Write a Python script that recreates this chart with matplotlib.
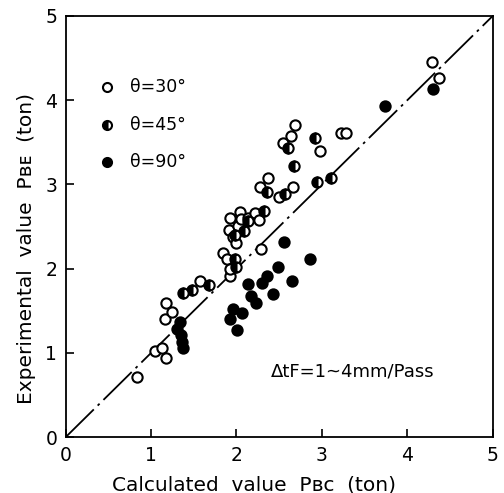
import matplotlib
matplotlib.use("Agg")
import matplotlib.pyplot as plt

# theta = 30 deg (open)
x30 = [0.84, 1.05, 1.13, 1.17, 1.16, 1.18, 1.24, 1.57, 1.84, 1.89, 1.92, 1.93, 1.92, 1.91,
       1.96, 1.99, 2.02, 2.04, 2.05, 2.13, 2.22, 2.26, 2.27, 2.37, 2.29, 2.50, 2.54, 2.64,
       2.68, 2.66, 2.98, 4.29, 4.375, 3.22, 3.28]
y30 = [0.72, 1.02, 1.06, 0.94, 1.40, 1.59, 1.49, 1.85, 2.19, 2.12, 1.91, 2.00, 2.60, 2.46,
       2.37, 2.31, 2.51, 2.67, 2.59, 2.60, 2.66, 2.58, 2.97, 3.07, 2.23, 2.85, 3.49, 3.57,
       3.70, 2.97, 3.40, 4.45, 4.26, 3.61, 3.61]
# theta = 45 deg (half filled)
x45 = [1.37, 1.48, 1.68, 1.98, 1.99, 1.98, 2.09, 2.14, 2.32, 2.36, 2.57, 2.60, 2.67, 2.92,
       2.94, 3.10]
y45 = [1.71, 1.75, 1.81, 2.12, 2.02, 2.40, 2.45, 2.56, 2.69, 2.91, 2.88, 3.43, 3.22, 3.55,
       3.03, 3.07]
# theta = 90 deg (filled)
x90 = [1.34, 1.30, 1.35, 1.36, 1.38, 1.92, 1.96, 2.01, 2.06, 2.13, 2.17, 2.23, 2.30, 2.36,
       2.43, 2.48, 2.56, 2.65, 2.86, 3.74, 4.30]
y90 = [1.37, 1.29, 1.21, 1.13, 1.06, 1.40, 1.52, 1.27, 1.48, 1.82, 1.68, 1.59, 1.83, 1.91,
       1.70, 2.02, 2.32, 1.85, 2.11, 3.93, 4.13]

legend_labels = ["θ=30°", "θ=45°", "θ=90°"]
ticks = [0, 1, 2, 3, 4, 5]

fig = plt.figure(figsize=(5.04, 4.93), dpi=100)
ax = fig.add_axes([0.130, 0.113, 0.848, 0.855])

ax.plot([0, 5], [0, 5], color="black", lw=1.3, dashes=[22, 3, 1.5, 3], zorder=1)

ms = 7.4
mew = 1.5
ax.plot(x30, y30, "o", ms=ms, mfc="white", mec="black", mew=mew, zorder=3)
ax.plot(x45, y45, "o", ms=ms, fillstyle="left", mfc="black", mfcalt="white",
        mec="black", mew=mew, zorder=3)
ax.plot(x90, y90, "o", ms=ms, mfc="black", mec="black", mew=mew, zorder=3)

# legend drawn as text + markers
lx, ltx = 0.48, 0.75
ly = [4.16, 3.70, 3.27]
ax.plot([lx], [ly[0]], "o", ms=6.5, mfc="white", mec="black", mew=mew, clip_on=False)
ax.plot([lx], [ly[1]], "o", ms=6.5, fillstyle="left", mfc="black", mfcalt="white",
        mec="black", mew=mew, clip_on=False)
ax.plot([lx], [ly[2]], "o", ms=6.5, mfc="black", mec="black", mew=mew, clip_on=False)
for yy, lab in zip(ly, legend_labels):
    ax.text(ltx, yy, lab, fontsize=12.5, va="center", ha="left")

ax.text(2.4, 0.78, "ΔtF=1~4mm/Pass", fontsize=13, va="center", ha="left")

ax.set_xlim(0, 5)
ax.set_ylim(0, 5)
ax.set_xticks(ticks)
ax.set_yticks(ticks)
ax.set_xticklabels([str(t) for t in ticks], fontsize=13.5)
ax.set_yticklabels([str(t) for t in ticks], fontsize=13.5)
ax.tick_params(direction="in", length=6, width=1.2, pad=6)
for s in ax.spines.values():
    s.set_linewidth(1.3)

fig.text(254 / 504, 1 - 485 / 493, "Calculated  value  Pʙᴄ  (ton)",
         fontsize=14.5, ha="center", va="center")
fig.text(27 / 504, 1 - 248 / 493, "Experimental  value  Pʙᴇ  (ton)",
         fontsize=14.5, ha="center", va="center", rotation=90)

fig.savefig("out.png", dpi=100)
